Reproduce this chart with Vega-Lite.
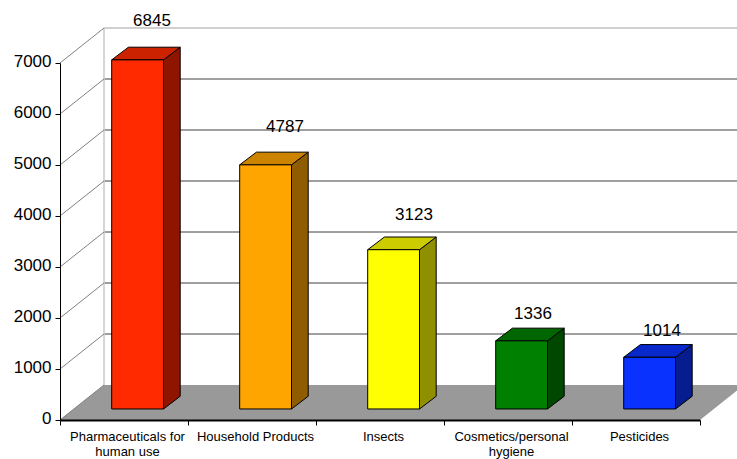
{
"$schema":"https://vega.github.io/schema/vega-lite/v6.json",
"width":640,"height":357,
"autosize":{"type":"none"},
"padding":{"left":60,"top":63,"right":37,"bottom":39},
"background":"white",
"config":{"view":{"stroke":null},"font":"Liberation Sans"},
"datasets":{
"bars":[
{"category":"Pharmaceuticals for\nhuman use","index":0,"value":6845},
{"category":"Household Products","index":1,"value":4787},
{"category":"Insects","index":2,"value":3123},
{"category":"Cosmetics/personal\nhygiene","index":3,"value":1336},
{"category":"Pesticides","index":4,"value":1014}],
"ticks":[{"v":0},{"v":1000},{"v":2000},{"v":3000},{"v":4000},{"v":5000},{"v":6000},{"v":7000}],
"depth":[{"d":0},{"d":1}]
},
"resolve":{"scale":{"x":"independent","color":"independent"},"axis":{"x":"independent","y":"independent"}},
"layer":[
{"data":{"name":"depth"},
 "transform":[{"calculate":"datum.d*686","as":"yy"},{"calculate":"datum.d*44","as":"xa"},{"calculate":"640+datum.d*44","as":"xb"}],
 "mark":{"type":"area","orient":"horizontal","color":"#999999","clip":false},
 "encoding":{"y":{"field":"yy","type":"quantitative","scale":{"domain":[0,7000],"nice":false},"axis":null},
  "x":{"field":"xa","type":"quantitative","scale":{"domain":[0,640],"nice":false,"zero":false},"axis":null,"stack":null},
  "x2":{"field":"xb"}}},
{"data":{"name":"ticks"},
 "transform":[{"filter":"datum.v>0 && datum.v<7000"},{"calculate":"datum.v+686","as":"yy"}],
 "mark":{"type":"rule","color":"#404040","strokeWidth":1},
 "encoding":{"y":{"field":"yy","type":"quantitative","scale":{"domain":[0,7000],"nice":false},"axis":null},
  "x":{"datum":44,"type":"quantitative","scale":{"domain":[0,640],"nice":false,"zero":false},"axis":null},
  "x2":{"datum":684}}},
{"data":{"name":"ticks"},
 "transform":[{"filter":"datum.v==7000"},{"calculate":"datum.v+686","as":"yy"}],
 "mark":{"type":"rule","color":"#c0c0c0","strokeWidth":1.5},
 "encoding":{"y":{"field":"yy","type":"quantitative","scale":{"domain":[0,7000],"nice":false},"axis":null},
  "x":{"datum":44,"type":"quantitative","scale":{"domain":[0,640],"nice":false,"zero":false},"axis":null},
  "x2":{"datum":684}}},
{"data":{"name":"ticks"},
 "transform":[{"filter":"datum.v==0"},{"calculate":"datum.v+686","as":"ya"},{"calculate":"7686","as":"yb"}],
 "mark":{"type":"rule","color":"#c8c8c8","strokeWidth":1.5},
 "encoding":{"y":{"field":"ya","type":"quantitative","scale":{"domain":[0,7000],"nice":false},"axis":null},
  "y2":{"field":"yb"},
  "x":{"datum":44,"type":"quantitative","scale":{"domain":[0,640],"nice":false,"zero":false},"axis":null}}},
{"data":{"name":"ticks"},
 "transform":[{"calculate":"[0,1]","as":"ds"},{"flatten":["ds"],"as":["d"]},{"calculate":"datum.v+datum.d*686","as":"yy"},{"calculate":"datum.d*44","as":"xx"}],
 "mark":{"type":"line","color":"#808080","strokeWidth":1},
 "encoding":{"y":{"field":"yy","type":"quantitative","scale":{"domain":[0,7000],"nice":false},"axis":null},
  "x":{"field":"xx","type":"quantitative","scale":{"domain":[0,640],"nice":false,"zero":false},"axis":null},
  "detail":{"field":"v"}}},
{"data":{"name":"bars"},
 "transform":[{"calculate":"[0,1]","as":"ds"},{"flatten":["ds"],"as":["d"]},
  {"calculate":"datum.index*128+103.5+datum.d*16.7","as":"xx"},
  {"calculate":"216+datum.value+datum.d*249","as":"yt"},
  {"calculate":"216+datum.d*249","as":"yb"}],
 "mark":{"type":"area","stroke":"black","strokeWidth":1},
 "encoding":{"x":{"field":"xx","type":"quantitative","scale":{"domain":[0,640],"nice":false,"zero":false},"axis":null},
  "y":{"field":"yt","type":"quantitative","stack":null,"scale":{"domain":[0,7000],"nice":false},"axis":null},
  "y2":{"field":"yb"},
  "color":{"field":"category","type":"nominal","sort":null,"legend":null,"scale":{"domain":["Pharmaceuticals for\nhuman use","Household Products","Insects","Cosmetics/personal\nhygiene","Pesticides"],"range":["#8f1500","#8f5d00","#8f8f00","#004800","#061c8f"]}}}},
{"data":{"name":"bars"},
 "transform":[{"calculate":"[0,1]","as":"ds"},{"flatten":["ds"],"as":["d"]},
  {"calculate":"datum.index*128+51.7+datum.d*16.7","as":"xa"},
  {"calculate":"datum.index*128+103.5+datum.d*16.7","as":"xb"},
  {"calculate":"216+datum.value+datum.d*249","as":"yy"}],
 "mark":{"type":"area","orient":"horizontal","stroke":"black","strokeWidth":1},
 "encoding":{"y":{"field":"yy","type":"quantitative","scale":{"domain":[0,7000],"nice":false},"axis":null},
  "x":{"field":"xa","type":"quantitative","stack":null,"scale":{"domain":[0,640],"nice":false,"zero":false},"axis":null},
  "x2":{"field":"xb"},
  "color":{"field":"category","type":"nominal","sort":null,"legend":null,"scale":{"domain":["Pharmaceuticals for\nhuman use","Household Products","Insects","Cosmetics/personal\nhygiene","Pesticides"],"range":["#cc2200","#cc8400","#cccc00","#006600","#0828cc"]}}}},
{"data":{"name":"bars"},
 "transform":[
  {"calculate":"datum.index*128+51.7","as":"xa"},
  {"calculate":"datum.index*128+103.5","as":"xb"},
  {"calculate":"216+datum.value","as":"yt"},
  {"calculate":"216","as":"yb"}],
 "mark":{"type":"rect","stroke":"black","strokeWidth":1},
 "encoding":{"x":{"field":"xa","type":"quantitative","scale":{"domain":[0,640],"nice":false,"zero":false},"axis":null},
  "x2":{"field":"xb"},
  "y":{"field":"yt","type":"quantitative","scale":{"domain":[0,7000],"nice":false},"axis":null},
  "y2":{"field":"yb"},
  "color":{"field":"category","type":"nominal","sort":null,"legend":null,"scale":{"domain":["Pharmaceuticals for\nhuman use","Household Products","Insects","Cosmetics/personal\nhygiene","Pesticides"],"range":["#ff2a00","#ffa500","#ffff00","#008000","#0a32ff"]}}}},
{"data":{"name":"bars"},
 "transform":[
  {"calculate":"datum.index*128+86+[6,11,12,3,4][datum.index]","as":"lx"},
  {"calculate":"216+datum.value+249+[26,25,22,14,14][datum.index]*19.608","as":"ly"}],
 "mark":{"type":"text","fontSize":17,"color":"black","baseline":"middle","align":"center"},
 "encoding":{"x":{"field":"lx","type":"quantitative","scale":{"domain":[0,640],"nice":false,"zero":false},"axis":null},
  "y":{"field":"ly","type":"quantitative","scale":{"domain":[0,7000],"nice":false},"axis":null},
  "text":{"field":"value","type":"quantitative"}}},
{"data":{"name":"bars"},
 "mark":{"type":"bar","opacity":0},
 "encoding":{
  "x":{"field":"category","type":"nominal","sort":null,"scale":{"paddingInner":0,"paddingOuter":0},
   "axis":{"title":null,"labelAngle":0,"tickBand":"extent","zindex":1,"domainColor":"black","domainWidth":2,"tickColor":"black","tickSize":5,"tickWidth":1,"labelColor":"black","labelFontSize":13,"labelPadding":5,"labelOffset":3,"labelLimit":0,"labelBaseline":"top","labelExpr":"split(datum.label,'\\n')","labelLineHeight":15}},
  "y":{"field":"value","type":"quantitative","scale":{"domain":[0,7000],"nice":false},
   "axis":{"title":null,"values":[0,1000,2000,3000,4000,5000,6000,7000],"format":"d","grid":false,"zindex":1,"domainColor":"black","domainWidth":1,"tickColor":"black","tickSize":5,"tickWidth":1,"labelColor":"black","labelFontSize":17,"labelPadding":4,"labelOffset":-2}}}}
]
}
